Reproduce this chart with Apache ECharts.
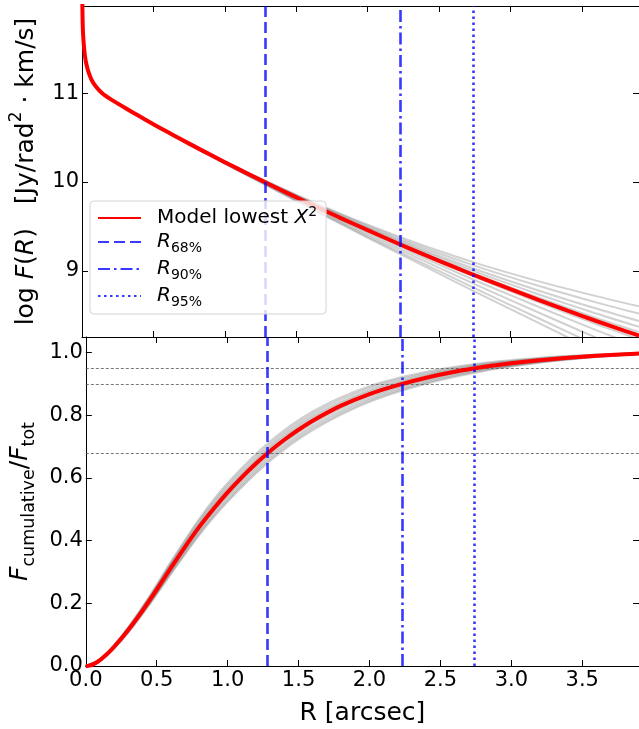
<!DOCTYPE html>
<html><head><meta charset="utf-8">
<script src="https://cdn.jsdelivr.net/npm/echarts@6/dist/echarts.min.js"></script>
<style>html,body{margin:0;padding:0;background:#fff}#c{width:639px;height:729px}</style>
</head><body><div id="c"></div>
<script>
const FONT = 'DejaVu Sans';

// tick values
const xTicks = [0, 0.5, 1.0, 1.5, 2.0, 2.5, 3.0, 3.5];
const yTopTicks = [9, 10, 11];
const yBottomTicks = [0, 0.2, 0.4, 0.6, 0.8, 1.0];

// best-fit model (red)
const R_model = [0, 0.003, 0.007, 0.015, 0.025, 0.04, 0.055, 0.07, 0.1, 0.13, 0.16, 0.2, 0.25, 0.3, 0.4, 0.5, 0.6, 0.7, 0.8, 0.9, 1.0, 1.1, 1.2, 1.3, 1.4, 1.5, 1.6, 1.8, 2.0, 2.2, 2.4, 2.6, 2.8, 3.0, 3.2, 3.4, 3.6, 3.8, 3.9];
const logF_model = [12.6, 11.95, 11.68, 11.5, 11.37, 11.265, 11.195, 11.14, 11.068, 11.015, 10.975, 10.932, 10.883, 10.835, 10.741, 10.65, 10.561, 10.474, 10.389, 10.305, 10.222, 10.141, 10.061, 9.982, 9.904, 9.827, 9.751, 9.602, 9.457, 9.316, 9.179, 9.046, 8.917, 8.793, 8.671, 8.551, 8.435, 8.324, 8.27];
const Fcum_model = [0, 0.00002, 0.0001, 0.00045, 0.00125, 0.0032, 0.0061, 0.0096, 0.0188, 0.030, 0.0426, 0.0615, 0.0875, 0.1155, 0.177, 0.244, 0.313, 0.3805, 0.444, 0.501, 0.554, 0.602, 0.646, 0.686, 0.722, 0.754, 0.783, 0.831, 0.868, 0.8965, 0.92, 0.939, 0.954, 0.966, 0.9757, 0.9835, 0.990, 0.995, 0.997];

// sampled models (grey), top panel
const R_samplesTop = [0, 0.007, 0.02, 0.04, 0.07, 0.1, 0.16, 0.3, 0.6, 1.0, 1.3, 1.6, 2.0, 2.4, 2.8, 3.2, 3.6, 3.9];
const logF_s1  = [12.6, 11.68, 11.43, 11.265, 11.14, 11.071, 10.975, 10.84, 10.569, 10.235, 10.004, 9.787, 9.519, 9.279, 9.067, 8.881, 8.715, 8.60];
const logF_s2  = [12.6, 11.68, 11.43, 11.265, 11.14, 11.07, 10.975, 10.839, 10.567, 10.232, 9.999, 9.778, 9.504, 9.254, 9.03, 8.829, 8.645, 8.518];
const logF_s3  = [12.6, 11.68, 11.43, 11.265, 11.14, 11.07, 10.975, 10.838, 10.565, 10.229, 9.993, 9.769, 9.488, 9.229, 8.992, 8.776, 8.575, 8.435];
const logF_s4  = [12.6, 11.68, 11.43, 11.265, 11.14, 11.069, 10.975, 10.837, 10.563, 10.226, 9.989, 9.762, 9.476, 9.209, 8.962, 8.734, 8.519, 8.369];
const logF_s5  = [12.6, 11.68, 11.43, 11.265, 11.14, 11.068, 10.975, 10.836, 10.562, 10.224, 9.985, 9.755, 9.464, 9.191, 8.935, 8.696, 8.469, 8.31];
const logF_s6  = [12.6, 11.68, 11.43, 11.265, 11.14, 11.068, 10.975, 10.835, 10.56, 10.22, 9.979, 9.746, 9.449, 9.166, 8.898, 8.645, 8.401, 8.23];
const logF_s7  = [12.6, 11.68, 11.43, 11.265, 11.14, 11.067, 10.975, 10.834, 10.558, 10.217, 9.973, 9.736, 9.432, 9.14, 8.86, 8.593, 8.333, 8.15];
const logF_s8  = [12.6, 11.68, 11.43, 11.265, 11.14, 11.066, 10.975, 10.832, 10.556, 10.212, 9.966, 9.724, 9.41, 9.108, 8.813, 8.528, 8.248, 8.05];
const logF_s9  = [12.6, 11.68, 11.43, 11.265, 11.14, 11.066, 10.975, 10.831, 10.553, 10.208, 9.958, 9.711, 9.389, 9.075, 8.765, 8.463, 8.163, 7.95];
const logF_s10 = [12.6, 11.68, 11.43, 11.265, 11.14, 11.065, 10.975, 10.83, 10.551, 10.204, 9.952, 9.701, 9.372, 9.049, 8.727, 8.411, 8.095, 7.87];

// sampled models (grey), bottom panel
const R_samplesBottom = [0, 0.1, 0.2, 0.3, 0.45, 0.6, 0.8, 1.0, 1.3, 1.6, 2.0, 2.4, 2.8, 3.2, 3.6, 3.9];
const Fcum_s1  = [0, 0.0218, 0.0675, 0.1245, 0.224, 0.333, 0.47, 0.584, 0.717, 0.813, 0.893, 0.939, 0.967, 0.9837, 0.994, 0.999];
const Fcum_s2  = [0, 0.021, 0.066, 0.122, 0.2205, 0.328, 0.4635, 0.5765, 0.709, 0.8055, 0.887, 0.934, 0.964, 0.9817, 0.993, 0.9985];
const Fcum_s3  = [0, 0.0203, 0.0645, 0.12, 0.217, 0.323, 0.457, 0.569, 0.7015, 0.798, 0.8805, 0.9295, 0.9605, 0.9797, 0.992, 0.998];
const Fcum_s4  = [0, 0.0197, 0.0633, 0.1182, 0.2142, 0.319, 0.4518, 0.563, 0.6953, 0.792, 0.8755, 0.9257, 0.9579, 0.9781, 0.9912, 0.9976];
const Fcum_s5  = [0, 0.0191, 0.0621, 0.1164, 0.2114, 0.315, 0.4466, 0.557, 0.6891, 0.786, 0.8705, 0.9219, 0.9553, 0.9765, 0.9904, 0.9972];
const Fcum_s6  = [0, 0.0185, 0.0609, 0.1146, 0.2086, 0.311, 0.4414, 0.551, 0.6829, 0.78, 0.8655, 0.9181, 0.9527, 0.9749, 0.9896, 0.9968];
const Fcum_s7  = [0, 0.0179, 0.0597, 0.1128, 0.2058, 0.307, 0.4362, 0.545, 0.6767, 0.774, 0.8605, 0.9143, 0.9501, 0.9733, 0.9888, 0.9964];
const Fcum_s8  = [0, 0.0172, 0.0582, 0.1106, 0.2023, 0.302, 0.4297, 0.5375, 0.669, 0.7665, 0.8543, 0.9096, 0.9469, 0.9713, 0.9878, 0.9959];
const Fcum_s9  = [0, 0.0164, 0.0567, 0.1083, 0.1988, 0.297, 0.4232, 0.53, 0.6612, 0.759, 0.848, 0.9048, 0.9436, 0.9693, 0.9868, 0.9954];
const Fcum_s10 = [0, 0.0158, 0.0555, 0.1065, 0.196, 0.293, 0.418, 0.524, 0.655, 0.753, 0.843, 0.901, 0.941, 0.9677, 0.986, 0.995];

// characteristic radii and flux fractions
const radiusNames = ['R68', 'R90', 'R95'];
const radiusValues = [1.28, 2.233, 2.739];
const fractionLevels = [0.68, 0.90, 0.95];

const logFSamples = [logF_s1, logF_s2, logF_s3, logF_s4, logF_s5, logF_s6, logF_s7, logF_s8, logF_s9, logF_s10];
const FcumSamples = [Fcum_s1, Fcum_s2, Fcum_s3, Fcum_s4, Fcum_s5, Fcum_s6, Fcum_s7, Fcum_s8, Fcum_s9, Fcum_s10];
const zip = (xs, ys) => xs.map((x, i) => [x, ys[i]]);

const BLUE = 'rgba(0,0,255,0.78)';
const GREY = 'rgba(45,45,45,0.22)';
const radiusStyles = [[11, 5], [12, 4, 2.5, 4], [2.5, 3.5]];
const legendLabels = {
  'Model': '{n|Model lowest }{it|X}{sup|2}',
  'R68': '{it|R}{sub|68%}',
  'R90': '{it|R}{sub|90%}',
  'R95': '{it|R}{sub|95%}'
};

const axisLine = { show: true, onZero: false, lineStyle: { color: '#000', width: 1 } };
const tick = { show: true, inside: true, length: 6, customValues: xTicks, lineStyle: { color: '#000', width: 1 } };

function xAx(grid, pos, labels) {
  const a = {
    type: 'value', gridIndex: grid, position: pos, min: 0, max: 3.9,
    axisLine, axisTick: tick, splitLine: { show: false },
    axisLabel: labels ? { show: true, customValues: xTicks, margin: 4, color: '#000', fontSize: 21, fontFamily: FONT, formatter: v => v.toFixed(1) } : { show: false }
  };
  if (labels) {
    a.name = 'R [arcsec]';
    a.nameLocation = 'middle';
    a.nameGap = 32;
    a.nameTextStyle = { fontSize: 25, fontFamily: FONT, color: '#000', lineHeight: 30 };
  }
  return a;
}
function yAx(grid, pos, min, max, ticks, labels, fmt) {
  return {
    type: 'value', gridIndex: grid, position: pos, min, max,
    axisLine, axisTick: Object.assign({}, tick, { customValues: ticks }), splitLine: { show: false },
    axisLabel: labels ? { show: true, customValues: ticks, margin: 3, color: '#000', fontSize: 21, fontFamily: FONT, formatter: fmt } : { show: false }
  };
}

const yTop = yAx(0, 'left', 8.255, 11.98, yTopTicks, true, v => String(v));
yTop.name = '{n|log }{it|F}{n|(}{it|R}{n|)   [Jy/rad}{sup|2}{n| · km/s]}';
yTop.nameLocation = 'middle';
yTop.nameRotate = 90;
yTop.nameGap = 38;
yTop.nameTextStyle = {
  fontSize: 25, fontFamily: FONT, color: '#000',
  rich: {
    n: { fontSize: 25, fontFamily: FONT, lineHeight: 36, color: '#000' },
    it: { fontSize: 25, fontFamily: FONT, fontStyle: 'italic', lineHeight: 36, color: '#000' },
    sup: { fontSize: 17, fontFamily: FONT, lineHeight: 20, verticalAlign: 'top', color: '#000' }
  }
};
const yBot = yAx(1, 'left', 0, 1.05, yBottomTicks, true, v => v.toFixed(1));
yBot.name = '{it|F}{sub|cumulative}{n|/}{it|F}{sub|tot}';
yBot.nameLocation = 'middle';
yBot.nameRotate = 90;
yBot.nameGap = 42;
yBot.nameTextStyle = {
  fontSize: 25, fontFamily: FONT, color: '#000',
  rich: {
    n: { fontSize: 25, fontFamily: FONT, lineHeight: 36, color: '#000' },
    it: { fontSize: 25, fontFamily: FONT, fontStyle: 'italic', lineHeight: 36, color: '#000' },
    sub: { fontSize: 17.5, fontFamily: FONT, lineHeight: 20, verticalAlign: 'bottom', color: '#000' }
  }
};

const series = [];
logFSamples.forEach(s => series.push({
  type: 'line', xAxisIndex: 0, yAxisIndex: 0, data: zip(R_samplesTop, s),
  symbol: 'none', smooth: 0.3, silent: true, z: 1,
  lineStyle: { color: GREY, width: 2 }
}));
FcumSamples.forEach(s => series.push({
  type: 'line', xAxisIndex: 2, yAxisIndex: 2, data: zip(R_samplesBottom, s),
  symbol: 'none', smooth: 0.3, silent: true, z: 1,
  lineStyle: { color: GREY, width: 2 }
}));
series.push({
  name: 'Model', type: 'line', xAxisIndex: 0, yAxisIndex: 0, data: zip(R_model, logF_model),
  symbol: 'none', smooth: 0.3, z: 3, lineStyle: { color: '#ff0000', width: 4 }
});
series.push({
  name: 'Model', type: 'line', xAxisIndex: 2, yAxisIndex: 2, data: zip(R_model, Fcum_model),
  symbol: 'none', smooth: 0.3, z: 3, lineStyle: { color: '#ff0000', width: 4 },
  markLine: {
    silent: true, symbol: ['none', 'none'], label: { show: false }, z: 2,
    lineStyle: { color: '#555', width: 0.8, type: [3, 2] },
    data: fractionLevels.map(v => ({ yAxis: v }))
  }
});
radiusNames.forEach((nm, i) => {
  [[0, 0], [2, 2]].forEach(([xi, yi]) => {
    series.push({
      name: nm, type: 'line', xAxisIndex: xi, yAxisIndex: yi, data: [],
      symbol: 'none', z: 4,
      lineStyle: { color: BLUE, width: 2.6, type: radiusStyles[i] },
      markLine: {
        silent: true, symbol: ['none', 'none'], label: { show: false },
        lineStyle: { color: BLUE, width: 2.6, type: radiusStyles[i] },
        data: [{ xAxis: radiusValues[i] }]
      }
    });
  });
});

const chart = echarts.init(document.getElementById('c'), null, { renderer: 'canvas' });
chart.setOption({
  animation: false,
  backgroundColor: '#fff',
  grid: [
    { left: 80, top: 6, width: 559, height: 331 },
    { left: 80, top: 337, width: 559, height: 330 }
  ],
  xAxis: [xAx(0, 'bottom', false), xAx(0, 'top', false), xAx(1, 'bottom', true), xAx(1, 'top', false)],
  yAxis: [yTop, yAx(0, 'right', 8.255, 11.98, yTopTicks, false), yBot, yAx(1, 'right', 0, 1.05, yBottomTicks, false)],
  legend: {
    data: ['Model', 'R68', 'R90', 'R95'],
    orient: 'vertical', left: 90, top: 201,
    padding: [4, 9, 5, 7], itemWidth: 43, itemHeight: 14, itemGap: 4,
    backgroundColor: 'rgba(255,255,255,0.8)', borderColor: '#d4d4d4', borderWidth: 1, borderRadius: 4,
    selectedMode: false, z: 10,
    itemStyle: { opacity: 0, borderWidth: 0 },
    formatter: n => legendLabels[n],
    textStyle: {
      fontSize: 20, fontFamily: FONT, color: '#000', padding: [0, 0, 0, 11],
      rich: {
        n: { fontSize: 20, fontFamily: FONT, lineHeight: 26, color: '#000' },
        it: { fontSize: 20, fontFamily: FONT, fontStyle: 'italic', lineHeight: 26, color: '#000' },
        sup: { fontSize: 14, fontFamily: FONT, lineHeight: 18, verticalAlign: 'top', color: '#000' },
        sub: { fontSize: 14, fontFamily: FONT, lineHeight: 18, verticalAlign: 'bottom', color: '#000' }
      }
    }
  },
  series
});
</script></body></html>
